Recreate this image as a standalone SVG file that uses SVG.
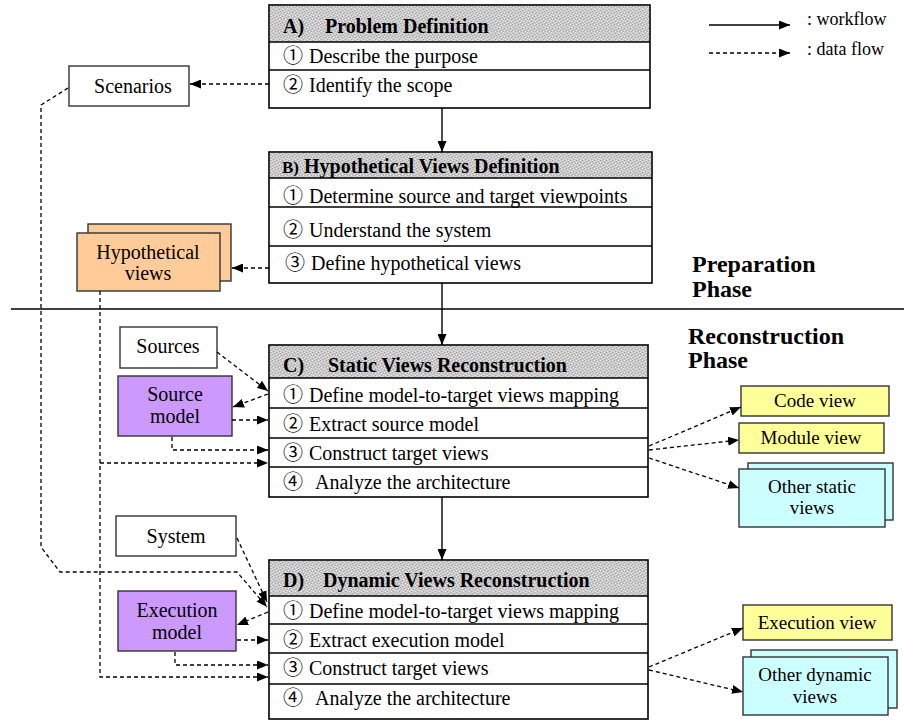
<svg xmlns="http://www.w3.org/2000/svg" width="905" height="720" viewBox="0 0 905 720">
  <defs>
    <!-- stippled grey used behind the step headers -->
    <pattern id="stipple" width="6" height="6" patternUnits="userSpaceOnUse">
      <rect width="6" height="6" fill="#c9c9c9"/>
      <rect x="0" y="0" width="1" height="1" fill="#ececec"/>
      <rect x="3" y="1" width="1" height="1" fill="#ececec"/>
      <rect x="1" y="3" width="1" height="1" fill="#ececec"/>
      <rect x="4" y="4" width="1" height="1" fill="#ececec"/>
      <rect x="5" y="2" width="1" height="1" fill="#e2e2e2"/>
      <rect x="2" y="5" width="1" height="1" fill="#e2e2e2"/>
      <rect x="2" y="0" width="1" height="1" fill="#a2a2a2"/>
      <rect x="5" y="1" width="1" height="1" fill="#a8a8a8"/>
      <rect x="0" y="4" width="1" height="1" fill="#a2a2a2"/>
      <rect x="3" y="3" width="1" height="1" fill="#a8a8a8"/>
      <rect x="4" y="5" width="1" height="1" fill="#a2a2a2"/>
      <rect x="1" y="1" width="1" height="1" fill="#b4b4b4"/>
    </pattern>
    <marker id="arr" markerUnits="userSpaceOnUse" markerWidth="11" markerHeight="9" refX="11" refY="4.5" orient="auto">
      <path d="M0,0 L11,4.5 L0,9 z" fill="#000"/>
    </marker>
  </defs>
  <style>
    text { font-family: "Liberation Serif", "Noto Sans CJK JP", serif; fill: #000; }
    .t { font-size: 20px; }
    .s { font-size: 19px; }
    .h { font-size: 20px; font-weight: bold; }
    .ph { font-size: 24px; font-weight: bold; }
    .lg { font-size: 18px; }
    .c { text-anchor: middle; }
    .frame { fill: #fff; stroke: #000; stroke-width: 1.6; }
    .hdr { fill: url(#stipple); stroke: none; }
    .row { stroke: #000; stroke-width: 1.4; }
    .box { stroke: #333; stroke-width: 1.4; }
    .wf { fill: none; stroke: #000; stroke-width: 1.4; }
    .df { fill: none; stroke: #000; stroke-width: 1.3; stroke-dasharray: 4 3; }
  </style>

  <rect width="905" height="720" fill="#fff"/>

  <!-- phase separator -->
  <g id="phases">
    <line x1="11" y1="309" x2="904" y2="309" stroke="#000" stroke-width="1.4"/>
    <text class="ph" x="692" y="272">Preparation</text>
    <text class="ph" x="692" y="297">Phase</text>
    <text class="ph" x="688" y="344">Reconstruction</text>
    <text class="ph" x="688" y="368">Phase</text>
  </g>

  <!-- legend -->
  <g id="legend">
    <line x1="709" y1="25" x2="790" y2="25" class="wf" marker-end="url(#arr)"/>
    <text class="lg" x="807" y="25">: workflow</text>
    <line x1="709" y1="53" x2="790" y2="53" class="df" marker-end="url(#arr)"/>
    <text class="lg" x="807" y="55">: data flow</text>
  </g>

  <!-- step A -->
  <g id="stepA">
    <rect class="frame" x="269" y="5" width="381" height="103"/>
    <rect class="hdr" x="270" y="6" width="379" height="36"/>
    <line class="row" x1="269" y1="42" x2="650" y2="42"/>
    <line class="row" x1="269" y1="70" x2="650" y2="70"/>
    <text class="h" y="33"><tspan x="283">A)</tspan><tspan x="325">Problem Definition</tspan></text>
    <text class="t" y="63"><tspan x="283">①</tspan><tspan x="309">Describe the purpose</tspan></text>
    <text class="t" y="92"><tspan x="283">②</tspan><tspan x="309">Identify the scope</tspan></text>
  </g>

  <!-- step B -->
  <g id="stepB">
    <rect class="frame" x="269" y="152" width="383" height="131"/>
    <rect class="hdr" x="270" y="153" width="381" height="25"/>
    <line class="row" x1="269" y1="178" x2="652" y2="178"/>
    <line class="row" x1="269" y1="207" x2="652" y2="207"/>
    <line class="row" x1="269" y1="246" x2="652" y2="246"/>
    <text class="h" y="173"><tspan x="282" font-size="17">B)</tspan><tspan x="304">Hypothetical Views Definition</tspan></text>
    <text class="t" y="203"><tspan x="283">①</tspan><tspan x="309">Determine source and target viewpoints</tspan></text>
    <text class="t" y="237"><tspan x="283">②</tspan><tspan x="309">Understand the system</tspan></text>
    <text class="t" y="270"><tspan x="285">③</tspan><tspan x="311">Define hypothetical views</tspan></text>
  </g>

  <!-- step C -->
  <g id="stepC">
    <rect class="frame" x="269" y="345" width="379" height="152"/>
    <rect class="hdr" x="270" y="346" width="377" height="32"/>
    <line class="row" x1="269" y1="378" x2="648" y2="378"/>
    <line class="row" x1="269" y1="408" x2="648" y2="408"/>
    <line class="row" x1="269" y1="438" x2="648" y2="438"/>
    <line class="row" x1="269" y1="467" x2="648" y2="467"/>
    <text class="h" y="372"><tspan x="283">C)</tspan><tspan x="328">Static Views Reconstruction</tspan></text>
    <text class="t" y="402"><tspan x="283">①</tspan><tspan x="309">Define model-to-target views mapping</tspan></text>
    <text class="t" y="431"><tspan x="283">②</tspan><tspan x="309">Extract source model</tspan></text>
    <text class="t" y="460"><tspan x="283">③</tspan><tspan x="309">Construct target views</tspan></text>
    <text class="t" y="489"><tspan x="283">④</tspan><tspan x="315">Analyze the architecture</tspan></text>
  </g>

  <!-- step D -->
  <g id="stepD">
    <rect class="frame" x="269" y="560" width="379" height="159"/>
    <rect class="hdr" x="270" y="561" width="377" height="35"/>
    <line class="row" x1="269" y1="596" x2="648" y2="596"/>
    <line class="row" x1="269" y1="624" x2="648" y2="624"/>
    <line class="row" x1="269" y1="653" x2="648" y2="653"/>
    <line class="row" x1="269" y1="684" x2="648" y2="684"/>
    <text class="h" y="587"><tspan x="283">D)</tspan><tspan x="323">Dynamic Views Reconstruction</tspan></text>
    <text class="t" y="618"><tspan x="283">①</tspan><tspan x="309">Define model-to-target views mapping</tspan></text>
    <text class="t" y="647"><tspan x="283">②</tspan><tspan x="309">Extract execution model</tspan></text>
    <text class="t" y="675"><tspan x="283">③</tspan><tspan x="309">Construct target views</tspan></text>
    <text class="t" y="705"><tspan x="283">④</tspan><tspan x="315">Analyze the architecture</tspan></text>
  </g>

  <!-- inputs and artefacts on the left -->
  <g id="scenarios">
    <rect class="box" x="69" y="66" width="120" height="40" fill="#fff"/>
    <text class="t c" x="133" y="93">Scenarios</text>
  </g>
  <g id="hypothetical-views">
    <rect class="box" x="88" y="224" width="143" height="57" fill="#ffcc99"/>
    <rect class="box" x="77" y="233" width="143" height="58" fill="#ffcc99"/>
    <text class="t c" x="148" y="259">Hypothetical</text>
    <text class="t c" x="148" y="280">views</text>
  </g>
  <g id="sources">
    <rect class="box" x="120" y="327" width="97" height="41" fill="#fff"/>
    <text class="t c" x="168" y="353">Sources</text>
  </g>
  <g id="source-model">
    <rect class="box" x="118" y="376" width="114" height="60" fill="#cc99ff"/>
    <text class="t c" x="175" y="401">Source</text>
    <text class="t c" x="175" y="423">model</text>
  </g>
  <g id="system">
    <rect class="box" x="116" y="516" width="120" height="40" fill="#fff"/>
    <text class="t c" x="176" y="543">System</text>
  </g>
  <g id="execution-model">
    <rect class="box" x="118" y="591" width="118" height="60" fill="#cc99ff"/>
    <text class="t c" x="177" y="617">Execution</text>
    <text class="t c" x="177" y="639">model</text>
  </g>

  <!-- views produced on the right -->
  <g id="code-view">
    <rect class="box" x="741" y="386" width="148" height="30" fill="#ffff99"/>
    <text class="s c" x="815" y="407">Code view</text>
  </g>
  <g id="module-view">
    <rect class="box" x="739" y="423" width="145" height="30" fill="#ffff99"/>
    <text class="s c" x="811" y="444">Module view</text>
  </g>
  <g id="other-static-views">
    <rect class="box" x="748" y="463" width="145" height="57" fill="#ccffff"/>
    <rect class="box" x="739" y="469" width="146" height="58" fill="#ccffff"/>
    <text class="s c" x="812" y="493">Other static</text>
    <text class="s c" x="812" y="514">views</text>
  </g>
  <g id="execution-view">
    <rect class="box" x="743" y="605" width="149" height="35" fill="#ffff99"/>
    <text class="s c" x="817" y="629">Execution view</text>
  </g>
  <g id="other-dynamic-views">
    <rect class="box" x="751" y="650" width="146" height="58" fill="#ccffff"/>
    <rect class="box" x="743" y="657" width="145" height="58" fill="#ccffff"/>
    <text class="s c" x="815" y="681">Other dynamic</text>
    <text class="s c" x="815" y="703">views</text>
  </g>

  <!-- connectors -->
  <g id="connectors">
    <!-- workflow between steps -->
    <line class="wf" x1="442" y1="108" x2="442" y2="152" marker-end="url(#arr)"/>
    <line class="wf" x1="442" y1="283" x2="442" y2="345" marker-end="url(#arr)"/>
    <line class="wf" x1="442" y1="497" x2="442" y2="560" marker-end="url(#arr)"/>

    <!-- preparation data flow -->
    <line class="df" x1="269" y1="84" x2="190" y2="84" marker-end="url(#arr)"/>
    <polyline class="df" points="68,88 41,105 41,547 60,572 237,572 267,607" marker-end="url(#arr)"/>
    <line class="df" x1="269" y1="268" x2="232" y2="268" marker-end="url(#arr)"/>
    <polyline class="df" points="100,291 100,677 268,677" marker-end="url(#arr)"/>
    <line class="df" x1="100" y1="463" x2="268" y2="463" marker-end="url(#arr)"/>

    <!-- static reconstruction data flow -->
    <line class="df" x1="217" y1="352" x2="268" y2="391" marker-end="url(#arr)"/>
    <line class="df" x1="268" y1="394" x2="233" y2="407" marker-end="url(#arr)"/>
    <line class="df" x1="232" y1="420" x2="268" y2="420" marker-end="url(#arr)"/>
    <polyline class="df" points="172,437 172,450 268,450" marker-end="url(#arr)"/>
    <line class="df" x1="649" y1="446" x2="741" y2="407" marker-end="url(#arr)"/>
    <line class="df" x1="649" y1="450" x2="739" y2="440" marker-end="url(#arr)"/>
    <line class="df" x1="649" y1="458" x2="739" y2="488" marker-end="url(#arr)"/>

    <!-- dynamic reconstruction data flow -->
    <line class="df" x1="237" y1="538" x2="267" y2="602" marker-end="url(#arr)"/>
    <line class="df" x1="268" y1="612" x2="237" y2="625" marker-end="url(#arr)"/>
    <line class="df" x1="237" y1="640" x2="268" y2="640" marker-end="url(#arr)"/>
    <polyline class="df" points="175,652 175,665 268,665" marker-end="url(#arr)"/>
    <line class="df" x1="649" y1="667" x2="743" y2="628" marker-end="url(#arr)"/>
    <line class="df" x1="649" y1="670" x2="743" y2="692" marker-end="url(#arr)"/>
  </g>
</svg>
